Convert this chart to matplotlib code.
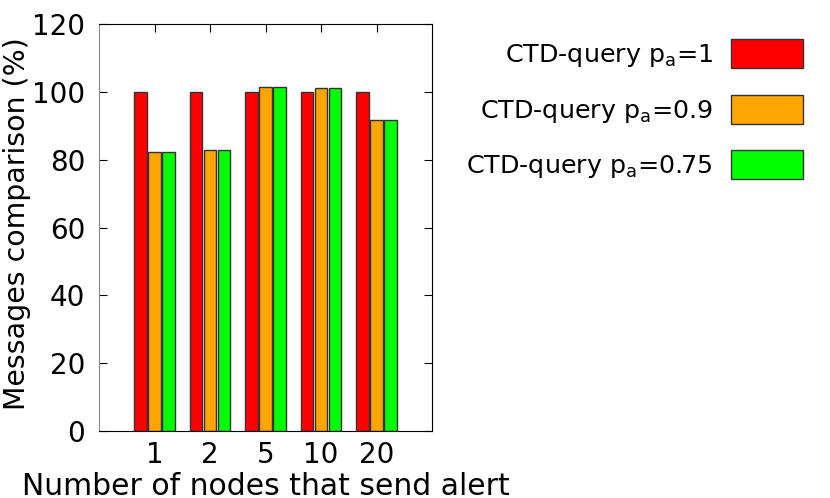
import matplotlib.pyplot as plt
import numpy as np

categories = ["1", "2", "5", "10", "20"]
labels = [r"CTD-query p$_{\mathregular{a}}$=1",
          r"CTD-query p$_{\mathregular{a}}$=0.9",
          r"CTD-query p$_{\mathregular{a}}$=0.75"]
pa_1 = [100, 100, 100, 100, 100]
pa_09 = [82.2, 82.8, 101.4, 101.0, 91.6]
pa_075 = [82.2, 82.8, 101.4, 101.0, 91.6]
colors = ["#ff0000", "#ffa500", "#00ff00"]

if __name__ == "__main__":
    fig = plt.figure(figsize=(8.3, 4.98), dpi=100)
    ax = fig.add_axes([0.1193, 0.1345, 0.4012, 0.8173])
    x = np.arange(len(categories))
    series = [pa_1, pa_09, pa_075]
    width = 0.225
    offsets = [-0.25, 0, 0.25]
    for vals, off, col, lab in zip(series, offsets, colors, labels):
        ax.bar(x + off, vals, width, color=col, edgecolor="#333333",
               linewidth=1, label=lab)
    ax.set_xlim(-1, 5)
    ax.set_ylim(0, 120)
    ax.set_yticks(range(0, 121, 20))
    ax.set_xticks(x)
    ax.set_xticklabels(categories)
    ax.tick_params(axis="y", direction="in", length=6, labelsize=20,
                   pad=10, right=True)
    # gnuplot style: ticks only mirrored on top, bottom ones hidden by bars
    ax.tick_params(axis="x", direction="in", length=6, labelsize=20,
                   pad=7, top=True, bottom=False)
    ax.set_xlabel("Number of nodes that send alert", fontsize=21.5,
                  labelpad=2)
    ax.set_ylabel("Messages comparison (%)", fontsize=20.4)
    ax.yaxis.set_label_coords(-0.203, 0.51)
    ax.spines["left"].set_color("#888888")
    fig.legend(loc="upper right", bbox_to_anchor=(0.9675, 1 - 39 / 498),
               frameon=False, markerfirst=False, fontsize=18.3,
               handlelength=2.85, handleheight=1.4, labelspacing=1.0,
               borderpad=0, borderaxespad=0, handletextpad=0.7)
    fig.savefig("out.png", dpi=100)
